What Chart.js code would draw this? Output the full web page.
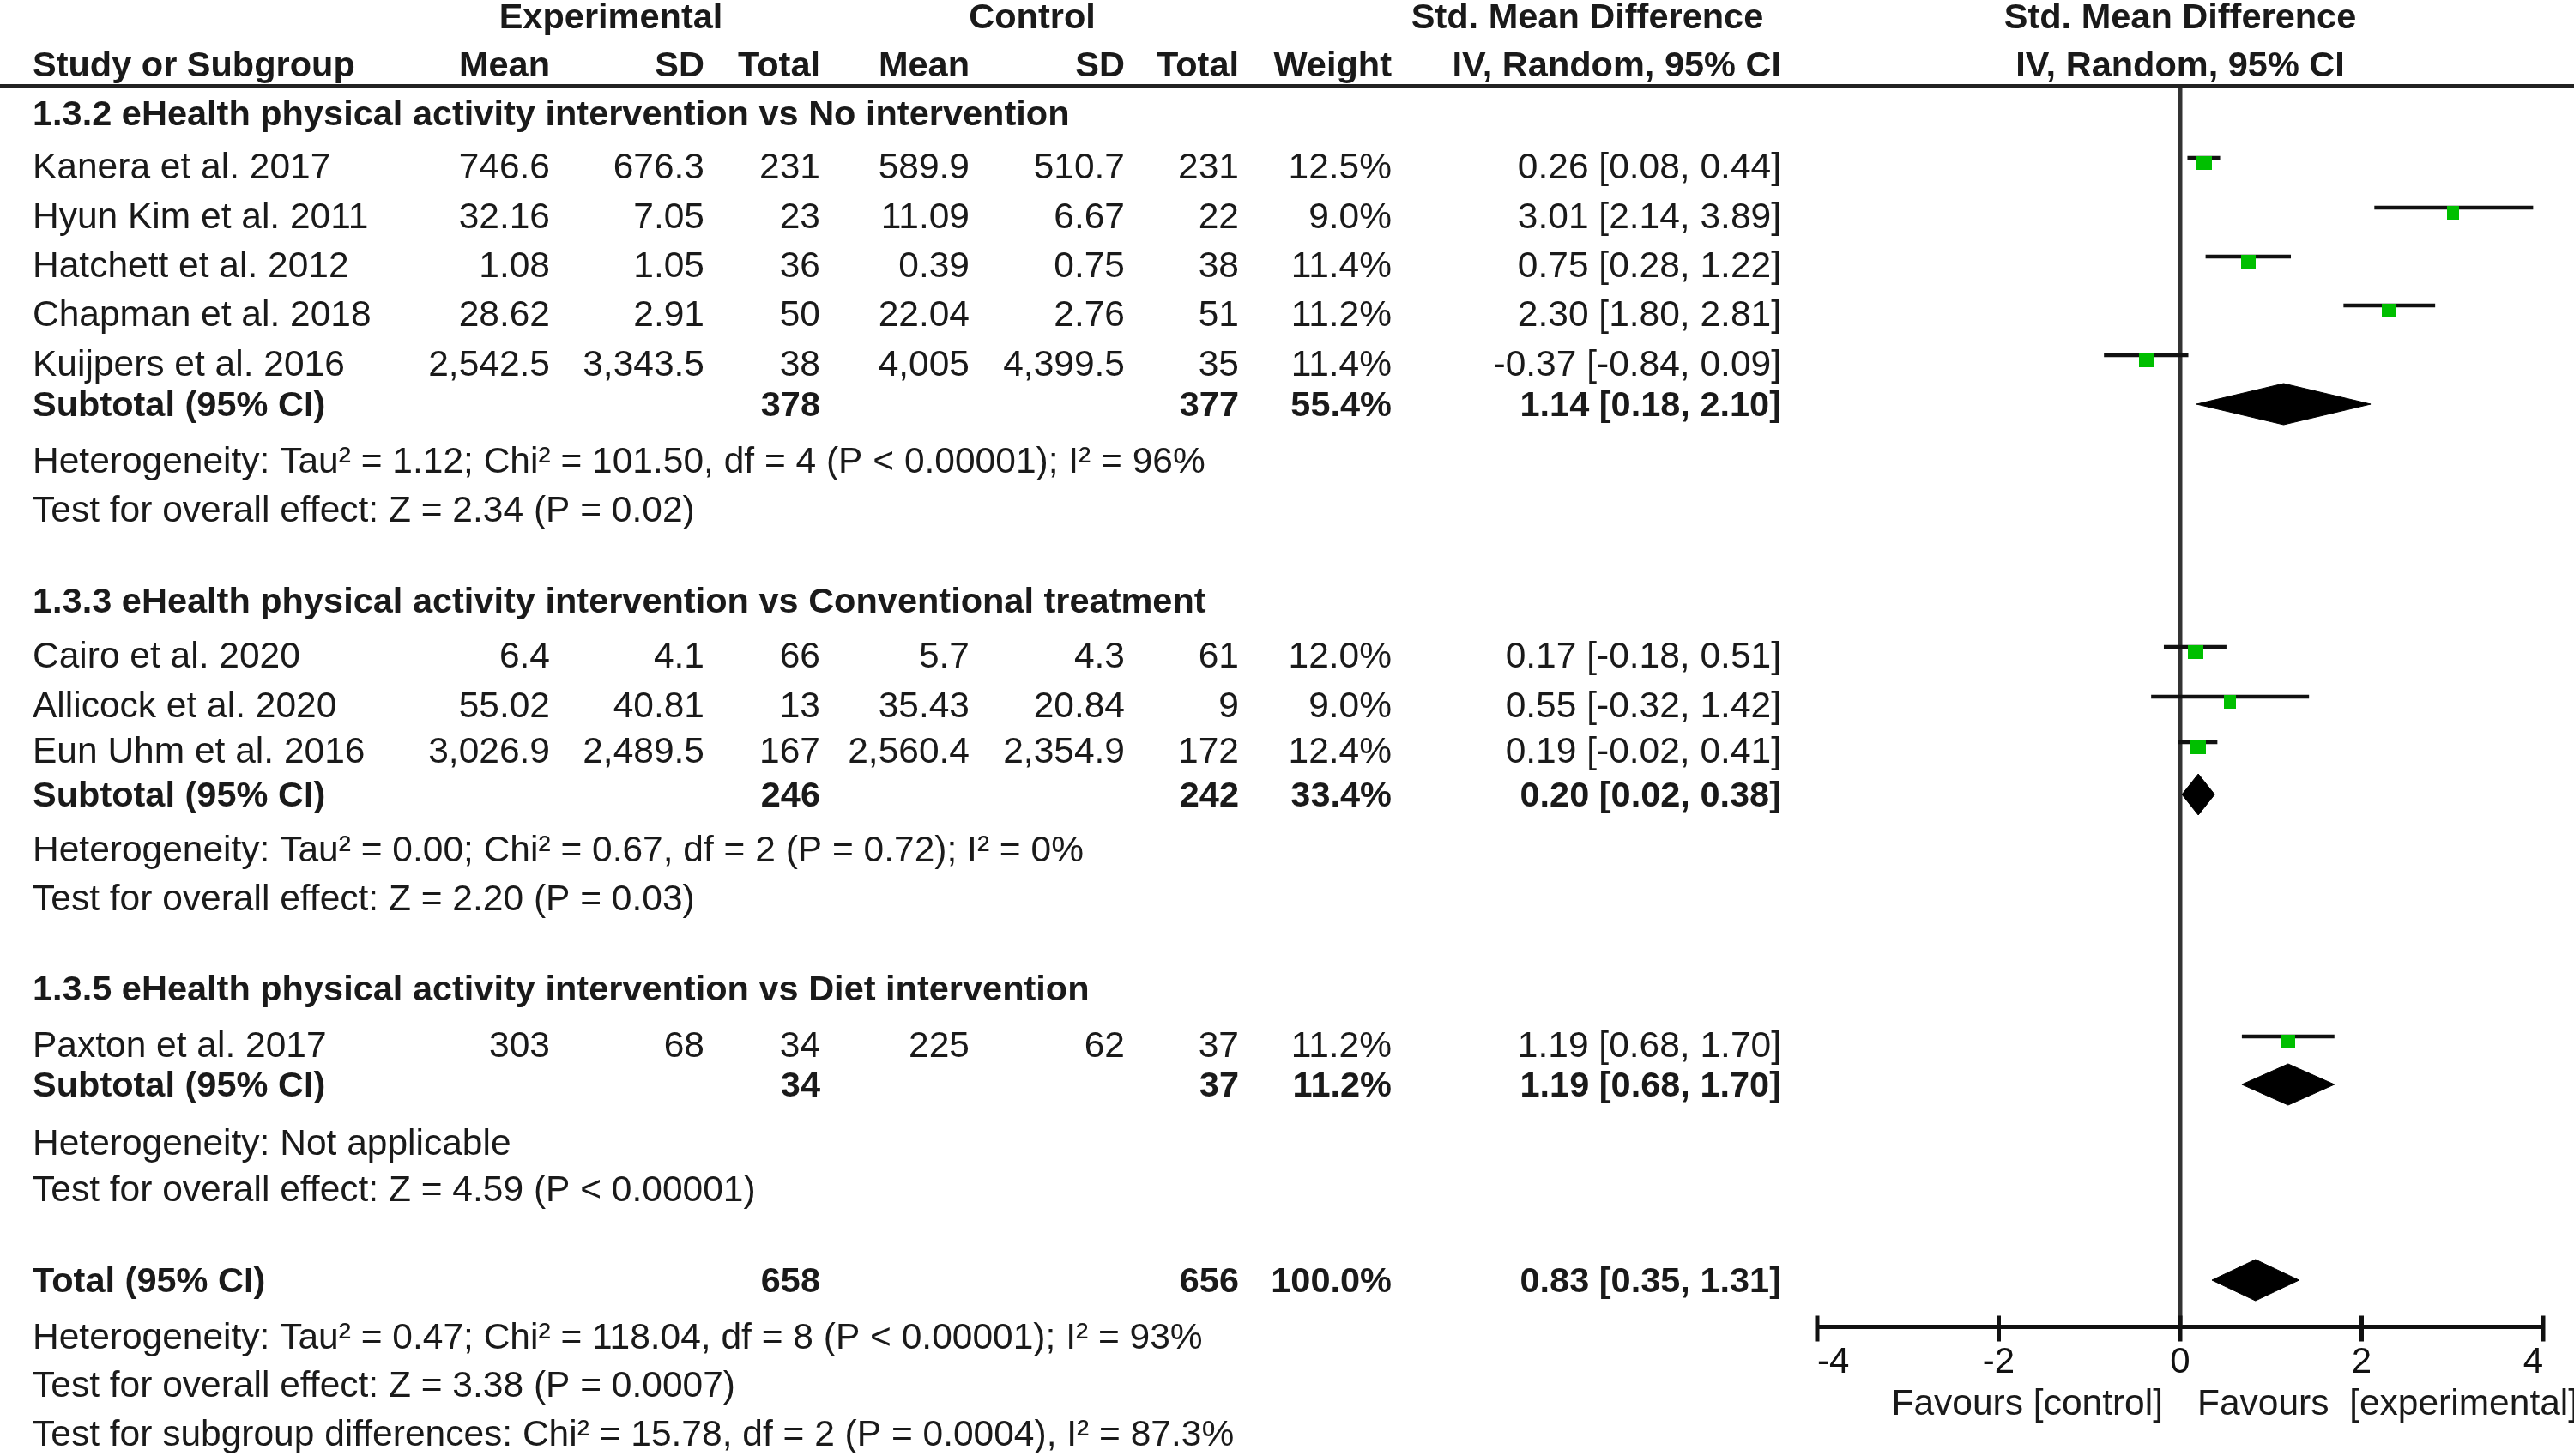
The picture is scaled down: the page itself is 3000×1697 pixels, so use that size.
<!DOCTYPE html>
<html>
<head>
<meta charset="utf-8">
<script src="https://cdn.jsdelivr.net/npm/chart.js@4.4.1/dist/chart.umd.min.js"></script>
<style>
  html, body { margin: 0; padding: 0; background: #fff; }
  canvas { display: block; }
</style>
</head>
<body>
<canvas id="forest" width="3000" height="1697" style="width:3000px;height:1697px"></canvas>
<script>
// ---- data ----
const groupTitles = [
  '1.3.2 eHealth physical activity intervention vs No intervention',
  '1.3.3 eHealth physical activity intervention vs Conventional treatment',
  '1.3.5 eHealth physical activity intervention vs Diet intervention'
];
const studyNames = ['Kanera et al. 2017', 'Hyun Kim et al. 2011', 'Hatchett et al. 2012', 'Chapman et al. 2018',
  'Kuijpers et al. 2016', 'Cairo et al. 2020', 'Allicock et al. 2020', 'Eun Uhm et al. 2016', 'Paxton et al. 2017'];
const expMean = [746.6, 32.16, 1.08, 28.62, 2542.5, 6.4, 55.02, 3026.9, 303];
const expSD   = [676.3, 7.05, 1.05, 2.91, 3343.5, 4.1, 40.81, 2489.5, 68];
const expN    = [231, 23, 36, 50, 38, 66, 13, 167, 34];
const ctlMean = [589.9, 11.09, 0.39, 22.04, 4005, 5.7, 35.43, 2560.4, 225];
const ctlSD   = [510.7, 6.67, 0.75, 2.76, 4399.5, 4.3, 20.84, 2354.9, 62];
const ctlN    = [231, 22, 38, 51, 35, 61, 9, 172, 37];
const weights = [12.5, 9.0, 11.4, 11.2, 11.4, 12.0, 9.0, 12.4, 11.2];
const smd     = [0.26, 3.01, 0.75, 2.30, -0.37, 0.17, 0.55, 0.19, 1.19];
const ciLow   = [0.08, 2.14, 0.28, 1.80, -0.84, -0.18, -0.32, -0.02, 0.68];
const ciHigh  = [0.44, 3.89, 1.22, 2.81, 0.09, 0.51, 1.42, 0.41, 1.70];

const subExpN   = [378, 246, 34];
const subCtlN   = [377, 242, 37];
const subWeight = [55.4, 33.4, 11.2];
const subSmd    = [1.14, 0.20, 1.19];
const subLow    = [0.18, 0.02, 0.68];
const subHigh   = [2.10, 0.38, 1.70];
const hetTexts = [
  'Heterogeneity: Tau\u00b2 = 1.12; Chi\u00b2 = 101.50, df = 4 (P < 0.00001); I\u00b2 = 96%',
  'Heterogeneity: Tau\u00b2 = 0.00; Chi\u00b2 = 0.67, df = 2 (P = 0.72); I\u00b2 = 0%',
  'Heterogeneity: Not applicable'
];
const testTexts = [
  'Test for overall effect: Z = 2.34 (P = 0.02)',
  'Test for overall effect: Z = 2.20 (P = 0.03)',
  'Test for overall effect: Z = 4.59 (P < 0.00001)'
];

const totalExpN = 658, totalCtlN = 656, totalWeight = 100.0;
const totalSmd = 0.83, totalLow = 0.35, totalHigh = 1.31;
const totalHetText = 'Heterogeneity: Tau\u00b2 = 0.47; Chi\u00b2 = 118.04, df = 8 (P < 0.00001); I\u00b2 = 93%';
const totalTestText = 'Test for overall effect: Z = 3.38 (P = 0.0007)';
const subgroupText = 'Test for subgroup differences: Chi\u00b2 = 15.78, df = 2 (P = 0.0004), I\u00b2 = 87.3%';

const xTickValues = [-4, -2, 0, 2, 4];
const favoursLeft = 'Favours [control]';
const favoursRight = 'Favours  [experimental]';

// ---- layout (pixel rows on the y scale, column edges) ----
const axisY = 1546;
const header1Y = 19, header2Y = 75, headerLineY = 100;
const groupY = [132, 700, 1152];
const studyY = [193, 251, 308, 365, 423, 763, 821, 874, 1217];
const subtotalY = [471, 926, 1264];
const hetY = [536, 989, 1331];
const testY = [593, 1046, 1385];
const totalY = 1492, totalHetY = 1557, totalTestY = 1613, subgroupY = 1670;
const favoursY = 1634;
const textShift = 3;
const colX = { name: 38, eMean: 641, eSD: 821, eN: 956, cMean: 1130, cSD: 1311, cN: 1444, weight: 1622, ci: 2076 };
const FONT = "42.5px 'Liberation Sans', Arial, sans-serif";
const BOLD = "bold 41.5px 'Liberation Sans', Arial, sans-serif";
const TEXT = '#1a1a1a';
const GREEN = '#00bf00';
const diamondHalf = 24;
const lineOffset = -9, boxOffset = -3.5;

const fmt = v => v.toLocaleString('en-US', { maximumFractionDigits: 3 });
const ciText = (e, l, h) => e.toFixed(2) + ' [' + l.toFixed(2) + ', ' + h.toFixed(2) + ']';

// green boxes: width follows the study weight
const boxImages = weights.map(w => {
  const c = document.createElement('canvas');
  c.width = Math.round(w * 1.5);
  c.height = 16;
  const g = c.getContext('2d');
  g.fillStyle = GREEN;
  g.fillRect(0, 0, c.width, c.height);
  return c;
});

const datasets = [];
datasets.push({
  type: 'line', order: 10,
  data: [{ x: 0, y: headerLineY }, { x: 0, y: axisY }],
  borderColor: '#333', borderWidth: 5, pointRadius: 0, fill: false
});
studyNames.forEach((n, i) => {
  datasets.push({
    type: 'line', order: 5,
    data: [{ x: ciLow[i], y: studyY[i] + lineOffset }, { x: ciHigh[i], y: studyY[i] + lineOffset }],
    borderColor: '#111', borderWidth: 4.5, pointRadius: 0, fill: false
  });
});
datasets.push({
  type: 'scatter', order: 1,
  data: smd.map((v, i) => ({ x: v, y: studyY[i] + boxOffset })),
  pointStyle: ctx => boxImages[ctx.dataIndex],
  pointRadius: 1
});
const diamonds = subSmd.map((v, i) => [subLow[i], v, subHigh[i], subtotalY[i]]);
diamonds.push([totalLow, totalSmd, totalHigh, totalY]);
diamonds.forEach(([l, e, h, y]) => {
  datasets.push({
    type: 'line', order: 3,
    data: [{ x: l, y: y }, { x: e, y: y - diamondHalf }, { x: h, y: y }, { x: e, y: y + diamondHalf }, { x: l, y: y }],
    borderColor: '#000', backgroundColor: '#000', borderWidth: 1, pointRadius: 0, fill: 'shape', tension: 0
  });
});

const tablePlugin = {
  id: 'forestTable',
  afterDraw(chart) {
    const ctx = chart.ctx;
    const xs = chart.scales.x, ys = chart.scales.y;
    const Y = v => ys.getPixelForValue(v);
    const x0 = xs.getPixelForValue(0);
    const t = (s, x, y, align, bold) => {
      ctx.font = bold ? BOLD : FONT;
      ctx.textAlign = align;
      ctx.fillText(s, x, Y(y) + textShift);
    };
    ctx.save();
    ctx.fillStyle = TEXT;
    ctx.textBaseline = 'middle';

    // headers
    t('Experimental', 712, header1Y, 'center', true);
    t('Control', 1203, header1Y, 'center', true);
    t('Std. Mean Difference', 1850, header1Y, 'center', true);
    t('Std. Mean Difference', x0, header1Y, 'center', true);
    t('Study or Subgroup', colX.name, header2Y, 'left', true);
    t('Mean', colX.eMean, header2Y, 'right', true);
    t('SD', colX.eSD, header2Y, 'right', true);
    t('Total', colX.eN, header2Y, 'right', true);
    t('Mean', colX.cMean, header2Y, 'right', true);
    t('SD', colX.cSD, header2Y, 'right', true);
    t('Total', colX.cN, header2Y, 'right', true);
    t('Weight', colX.weight, header2Y, 'right', true);
    t('IV, Random, 95% CI', colX.ci, header2Y, 'right', true);
    t('IV, Random, 95% CI', x0, header2Y, 'center', true);

    // studies
    studyNames.forEach((n, i) => {
      const y = studyY[i];
      t(n, colX.name, y, 'left');
      t(fmt(expMean[i]), colX.eMean, y, 'right');
      t(fmt(expSD[i]), colX.eSD, y, 'right');
      t(String(expN[i]), colX.eN, y, 'right');
      t(fmt(ctlMean[i]), colX.cMean, y, 'right');
      t(fmt(ctlSD[i]), colX.cSD, y, 'right');
      t(String(ctlN[i]), colX.cN, y, 'right');
      t(weights[i].toFixed(1) + '%', colX.weight, y, 'right');
      t(ciText(smd[i], ciLow[i], ciHigh[i]), colX.ci, y, 'right');
    });

    // subgroups
    groupTitles.forEach((g, i) => {
      t(g, colX.name, groupY[i], 'left', true);
      const y = subtotalY[i];
      t('Subtotal (95% CI)', colX.name, y, 'left', true);
      t(String(subExpN[i]), colX.eN, y, 'right', true);
      t(String(subCtlN[i]), colX.cN, y, 'right', true);
      t(subWeight[i].toFixed(1) + '%', colX.weight, y, 'right', true);
      t(ciText(subSmd[i], subLow[i], subHigh[i]), colX.ci, y, 'right', true);
      t(hetTexts[i], colX.name, hetY[i], 'left');
      t(testTexts[i], colX.name, testY[i], 'left');
    });

    // overall
    t('Total (95% CI)', colX.name, totalY, 'left', true);
    t(String(totalExpN), colX.eN, totalY, 'right', true);
    t(String(totalCtlN), colX.cN, totalY, 'right', true);
    t(totalWeight.toFixed(1) + '%', colX.weight, totalY, 'right', true);
    t(ciText(totalSmd, totalLow, totalHigh), colX.ci, totalY, 'right', true);
    t(totalHetText, colX.name, totalHetY, 'left');
    t(totalTestText, colX.name, totalTestY, 'left');
    t(subgroupText, colX.name, subgroupY, 'left');

    // favours labels
    t(favoursLeft, x0 - 20, favoursY, 'right');
    t(favoursRight, x0 + 20, favoursY, 'left');

    // rule under the header
    ctx.fillStyle = '#222';
    ctx.fillRect(0, Y(headerLineY) - 2, chart.width, 4);

    // tick marks across the axis line
    ctx.fillStyle = '#111';
    const ay = xs.top + 2.5;
    xs.ticks.forEach(tk => {
      const px = xs.getPixelForValue(tk.value);
      ctx.fillRect(px - 2.5, ay - 15, 5, 30);
    });
    ctx.restore();
  }
};

new Chart(document.getElementById('forest').getContext('2d'), {
  type: 'scatter',
  data: { datasets: datasets },
  options: {
    responsive: false,
    animation: false,
    devicePixelRatio: 1,
    layout: { autoPadding: false, padding: { left: 2118, right: 36, top: 0, bottom: 0 } },
    plugins: { legend: { display: false }, tooltip: { enabled: false }, title: { display: false } },
    scales: {
      x: {
        type: 'linear', position: 'bottom', min: -4, max: 4,
        afterBuildTicks: scale => { scale.ticks = xTickValues.map(v => ({ value: v })); },
        afterFit: scale => { scale.height = 1697 - axisY; },
        grid: { display: false, drawTicks: false },
        border: { display: true, color: '#111', width: 5 },
        ticks: {
          align: 'inner', padding: 17, color: '#111',
          font: { family: "'Liberation Sans', Arial, sans-serif", size: 42 },
          callback: v => String(v)
        }
      },
      y: {
        type: 'linear', min: 0, max: axisY, reverse: true, display: false
      }
    }
  },
  plugins: [tablePlugin]
});
</script>
</body>
</html>
